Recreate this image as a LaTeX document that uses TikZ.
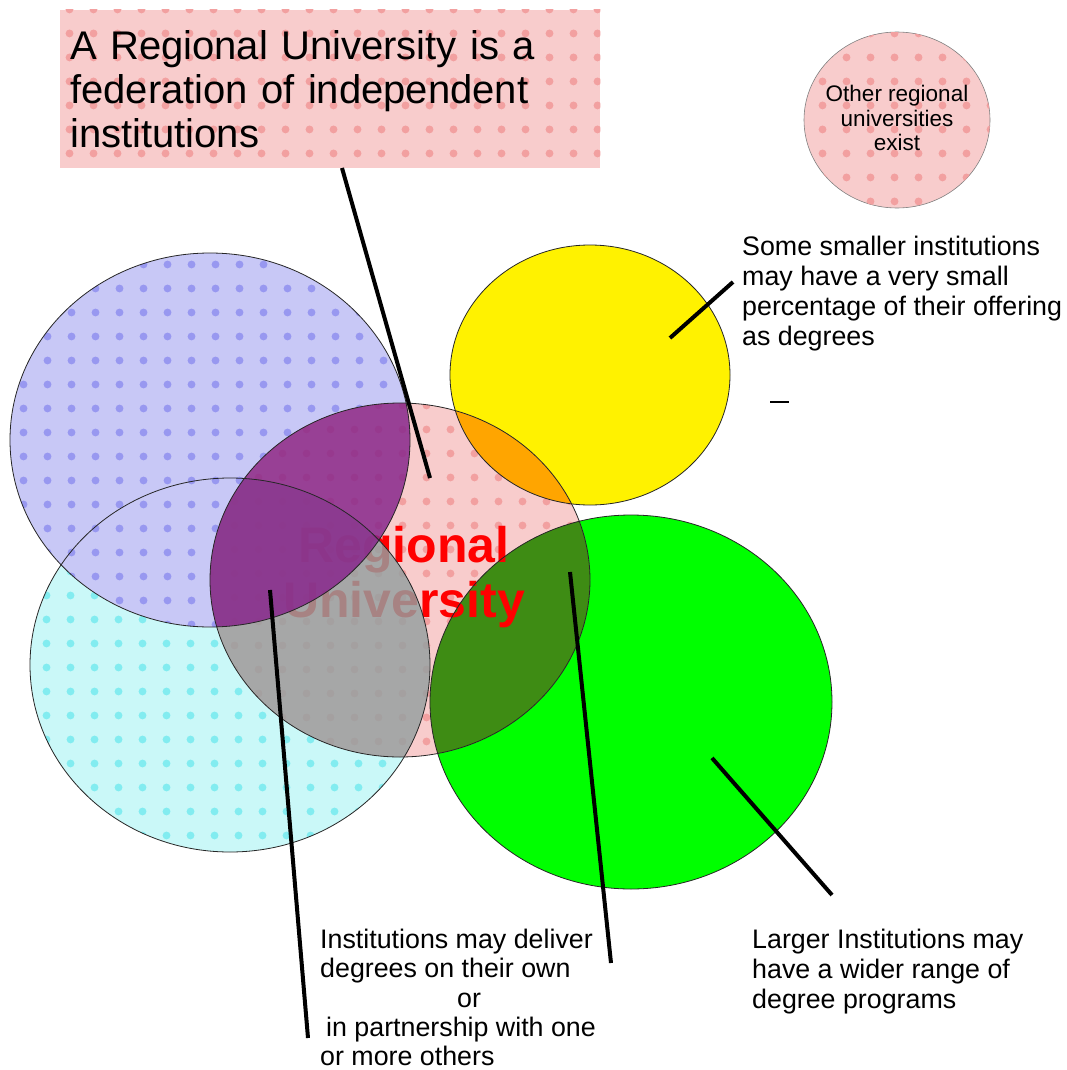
\documentclass[tikz,border=0pt]{standalone}
\usepackage{fontspec}
\setmainfont{Liberation Sans}
\usetikzlibrary{shapes.geometric,patterns.meta}

\definecolor{rosefill}{RGB}{248,204,204}
\definecolor{rosespot}{RGB}{242,160,160}
\definecolor{lavfill}{RGB}{200,200,246}
\definecolor{lavspot}{RGB}{152,152,240}
\definecolor{aquafill}{RGB}{202,248,248}
\definecolor{aquaspot}{RGB}{130,236,240}
\definecolor{limefill}{RGB}{0,255,0}
\definecolor{plumfill}{RGB}{136,40,140}
\definecolor{slatefill}{RGB}{148,160,160}
\definecolor{amberfill}{RGB}{255,165,0}
\definecolor{mossfill}{RGB}{62,140,20}

% soft spots of the printed fill texture
\tikzdeclarepattern{
  name=spots,
  type=uncolored,
  bounding box={(-11.75pt,-11.75pt) and (11.75pt,11.75pt)},
  tile size={(23.5pt,23.5pt)},
  code={\fill (0pt,0pt) circle (4pt);}
}

\tikzset{
  bluesize/.style={x radius=200,y radius=187},
  aquasize/.style={x radius=200,y radius=187},
  rosesize/.style={x radius=190,y radius=177},
  yellowsize/.style={x radius=140,y radius=130},
  greensize/.style={x radius=201,y radius=187},
  outline/.style={draw=black!85,line width=0.8pt},
  pointer/.style={line width=4pt},
  note/.style={inner sep=0pt,align=left,font=\fontsize{26.8}{30}\selectfont},
}

\begin{document}
\begin{tikzpicture}[x=1pt,y=-1pt]
  \useasboundingbox[fill=white] (0,0) rectangle (1067,1070);

  % centres of the institutions
  \coordinate (cb) at (210,440);
  \coordinate (cc) at (230,665);
  \coordinate (cp) at (400,580);
  \coordinate (cy) at (590,375);
  \coordinate (cg) at (631,702);

  % plain fills
  \fill[aquafill] (cc) ellipse [aquasize];
  \fill[pattern=spots,pattern color=aquaspot] (cc) ellipse [aquasize];
  \fill[lavfill] (cb) ellipse [bluesize];
  \fill[pattern=spots,pattern color=lavspot] (cb) ellipse [bluesize];
  \fill[yellow] (cy) ellipse [yellowsize];
  \fill[limefill] (cg) ellipse [greensize];
  \fill[rosefill] (cp) ellipse [rosesize];
  \fill[pattern=spots,pattern color=rosespot] (cp) ellipse [rosesize];

  % overlaps with the regional university (below the label)
  \begin{scope}
    \clip (cp) ellipse [rosesize];
    \fill[amberfill] (cy) ellipse [yellowsize];
    \fill[mossfill] (cg) ellipse [greensize];
  \end{scope}

  \node[text=red,align=center,font=\bfseries\fontsize{50}{55}\selectfont] (ru) at (404,577) {Regional\\University};

  % overlaps with the regional university (above the label)
  \begin{scope}
    \clip (cp) ellipse [rosesize];
    \fill[slatefill,fill opacity=0.82] (cc) ellipse [aquasize];
    \fill[plumfill,fill opacity=0.85] (cb) ellipse [bluesize];
  \end{scope}

  % edges
  \draw[outline] (cc) ellipse [aquasize];
  \draw[outline] (cb) ellipse [bluesize];
  \draw[outline] (cy) ellipse [yellowsize];
  \draw[outline] (cg) ellipse [greensize];
  \draw[outline] (cp) ellipse [rosesize];

  % headline and the other universities
  \node[anchor=north west,fill=rosefill,minimum width=540pt,minimum height=158pt,
        inner sep=0pt] (fed) at (60,10) {};
  \fill[pattern=spots,pattern color=rosespot] (fed.south west) rectangle (fed.north east);
  \node[anchor=west,text width=520pt,inner xsep=10pt,inner ysep=0pt,align=left,
        font=\fontsize{40}{44}\selectfont] (fedtext) at (fed.west)
        {A Regional University is a\\federation of independent\\institutions};
  \node[ellipse,fill=rosefill,draw=black!50,line width=0.6pt,minimum width=186pt,
        minimum height=176pt,inner sep=0pt] (other) at (897,120) {};
  \fill[pattern=spots,pattern color=rosespot] (other.center) ellipse [x radius=93,y radius=88];
  \node[align=center,font=\fontsize{22.5}{24.5}\selectfont] (othertext) at (897,118)
        {Other regional\\universities\\exist};

  % notes
  \node[note,anchor=north west] (small) at (742,236)
        {Some smaller institutions\\may have a very small\\percentage of their offering\\as degrees};
  \node[note,anchor=north west,font=\fontsize{26.8}{29.3}\selectfont] (deliver) at (320,929)
        {Institutions may deliver\\degrees on their own\\\hspace*{137pt}or\\\hspace*{6pt}in partnership with one\\or more others};
  \node[note,anchor=north west] (larger) at (752,929)
        {Larger Institutions may\\have a wider range of\\degree programs};

  % pointer ends
  \coordinate (fedfoot) at (342,168);
  \coordinate (fedtip) at (430,478);
  \coordinate (smallfoot) at (733,282);
  \coordinate (smalltip) at (670,338);
  \coordinate (deliverL) at (308,1038);
  \coordinate (delivertipL) at (270,590);
  \coordinate (deliverR) at (611,963);
  \coordinate (delivertipR) at (570,572);
  \coordinate (largerfoot) at (832,895);
  \coordinate (largertip) at (712,758);
  \coordinate (dashA) at (770,402);
  \coordinate (dashB) at (789,402);

  \draw[pointer] (fedfoot) -- (fedtip);
  \draw[pointer] (smallfoot) -- (smalltip);
  \draw[pointer] (deliverL) -- (delivertipL);
  \draw[pointer] (deliverR) -- (delivertipR);
  \draw[pointer] (largerfoot) -- (largertip);
  \draw[line width=1.5pt] (dashA) -- (dashB);
\end{tikzpicture}
\end{document}
